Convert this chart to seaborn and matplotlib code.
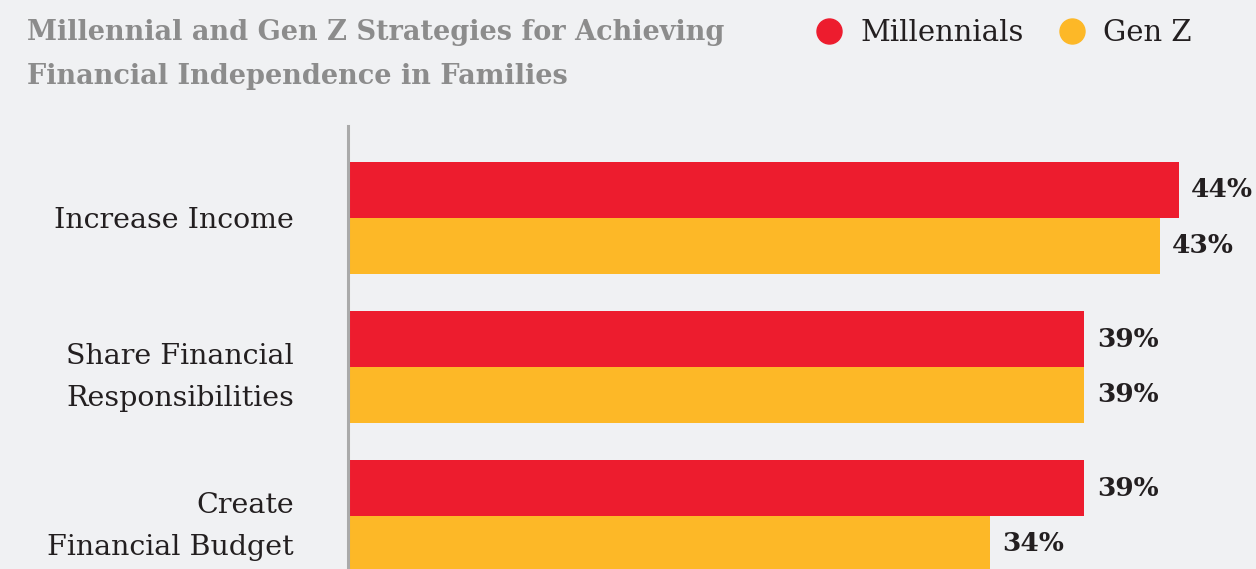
import pandas as pd
import matplotlib.pyplot as plt
import seaborn as sns
from matplotlib.lines import Line2D

# Data
categories = ["Increase Income", "Share Financial\nResponsibilities", "Create\nFinancial Budget"]
millennials = [44, 39, 39]
gen_z = [43, 39, 34]
series_names = ["Millennials", "Gen Z"]

df = pd.DataFrame({
    "Strategy": categories * 2,
    "Share": millennials + gen_z,
    "Group": [series_names[0]] * 3 + [series_names[1]] * 3,
})

bg = "#f0f1f3"
red = "#ed1c2e"
gold = "#fdb827"
dark = "#231f20"

sns.set_theme(style="white")
plt.rcParams["font.family"] = ["DejaVu Serif"]

fig = plt.figure(figsize=(12.56, 5.69), dpi=100, facecolor=bg)
ax = fig.add_axes([348 / 1256, 0, 1 - 348 / 1256, 1 - 126 / 569])
ax.set_facecolor(bg)

sns.barplot(data=df, x="Share", y="Strategy", hue="Group", orient="h",
            palette=[red, gold], width=0.75, saturation=1, linewidth=0,
            ax=ax, legend=False)

for cont in ax.containers:
    ax.bar_label(cont, fmt="{:.0f}%", padding=9, fontsize=19, fontweight="bold", color=dark)

ax.set_xlim(0, 48.1)
ax.set_ylim(2.356, -0.617)
ax.set_xlabel("")
ax.set_ylabel("")
ax.set_xticks([])
ax.tick_params(axis="y", length=0, pad=39, labelsize=20.5, labelcolor=dark)
for lbl in ax.get_yticklabels():
    lbl.set_horizontalalignment("right")
    lbl.set_multialignment("right")
    lbl.set_linespacing(1.7)

for side in ["top", "right", "bottom"]:
    ax.spines[side].set_visible(False)
ax.spines["left"].set_color("#aaaaaa")
ax.spines["left"].set_linewidth(2.2)

fig.text(27 / 1256, 1 - 19 / 569,
         "Millennial and Gen Z Strategies for Achieving\nFinancial Independence in Families",
         ha="left", va="top", fontsize=19.5, fontweight="bold", color="#8c8c8c", linespacing=1.8)

handles = [Line2D([], [], marker="o", linestyle="", markersize=18, color=c) for c in [red, gold]]
fig.legend(handles, series_names, loc="center left", bbox_to_anchor=(785 / 1256, 1 - 33 / 569),
           ncol=2, frameon=False, fontsize=21, labelcolor=dark, handletextpad=0.45,
           columnspacing=1.0, handlelength=1.25)

fig.savefig("out.png", dpi=100, facecolor=bg)
